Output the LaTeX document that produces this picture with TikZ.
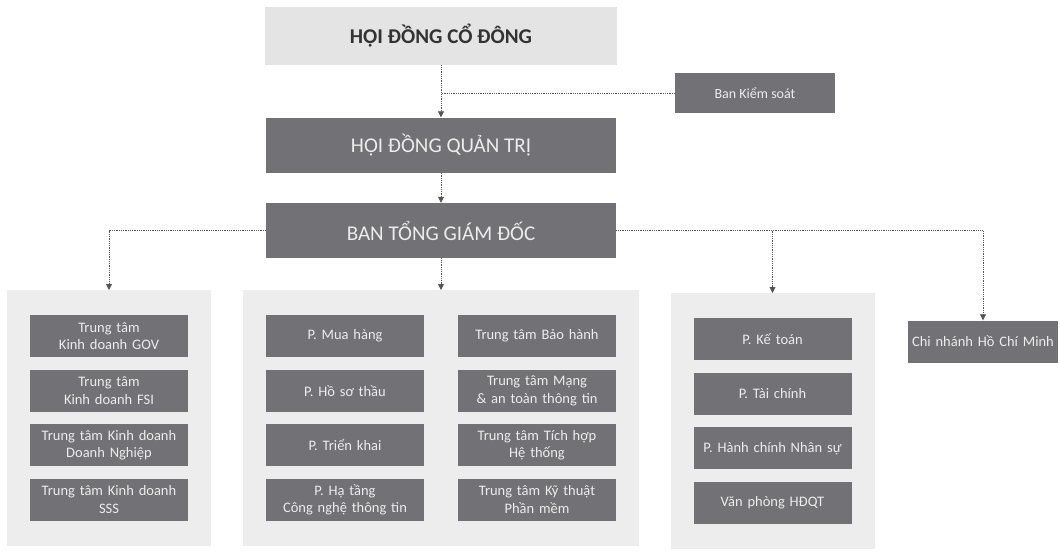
\documentclass[tikz,border=0pt]{standalone}
\usepackage{fontspec}
\setmainfont{Carlito}
\usetikzlibrary{matrix, arrows.meta}

\definecolor{boxgray}{RGB}{114,114,118}
\definecolor{boxtext}{RGB}{236,236,236}
\definecolor{bggray}{RGB}{237,237,237}
\definecolor{topgray}{RGB}{228,228,228}
\definecolor{linegray}{RGB}{85,85,85}

\begin{document}
\begin{tikzpicture}
        [x=1pt, y=-1pt,
        every node/.style={align=center, inner sep=0pt},
        darkbox/.style={fill=boxgray, text=boxtext},
        unitbox/.style={darkbox, text width=152pt, minimum width=158pt,
          minimum height=42pt, font=\fontsize{14.5}{17.5}\selectfont},
        bigbox/.style={darkbox, minimum width=350pt, minimum height=55pt,
          font=\fontsize{21}{25}\selectfont},
        topbox/.style={fill=topgray, text=black!80, minimum width=352pt,
          minimum height=58pt, font=\fontsize{21}{25}\selectfont\bfseries},
        group/.style={matrix of nodes, fill=bggray, inner xsep=23pt,
          inner ysep=25pt, row sep=12.5pt, column sep=34pt,
          nodes={unitbox, anchor=center}},
        link/.style={linegray, densely dotted, line width=0.8pt},
        arrow/.style={link, -{Triangle[width=6pt, length=6pt]}}]

    \useasboundingbox (0,0) rectangle (1060,554);

    % top of the chart
    \node (hdcd) [topbox] at (441,36) {HỘI ĐỒNG CỔ ĐÔNG};
    \node (hdqt) [bigbox] at (441,145) {HỘI ĐỒNG QUẢN TRỊ};
    \node (btgd) [bigbox] at (441,230.5) {BAN TỔNG GIÁM ĐỐC};
    \node (bks) [darkbox, minimum width=160pt, minimum height=40pt,
      font=\fontsize{14}{17}\selectfont] at (755,93) {Ban Kiểm soát};

    % units below the board of directors
    \matrix (g1) [group, anchor=north] at (109,290)
    {
      {Trung tâm\\Kinh doanh GOV} \\
      {Trung tâm\\Kinh doanh FSI} \\
      {Trung tâm Kinh doanh\\Doanh Nghiệp} \\
      {Trung tâm Kinh doanh\\SSS} \\
    };

    \matrix (g2) [group, anchor=north] at (441,290)
    {
      P. Mua hàng & Trung tâm Bảo hành \\
      P. Hồ sơ thầu & {Trung tâm Mạng\\\& an toàn thông tin} \\
      P. Triển khai & {Trung tâm Tích hợp\\Hệ thống} \\
      {P. Hạ tầng\\Công nghệ thông tin} & {Trung tâm Kỹ thuật\\Phần mềm} \\
    };

    \matrix (g3) [group, anchor=north] at (772.5,293)
    {
      P. Kế toán \\
      P. Tài chính \\
      P. Hành chính Nhân sự \\
      Văn phòng HĐQT \\
    };

    \node (cn) [unitbox, text width=146pt, minimum width=150pt] at (983,341.5)
      {Chi nhánh Hồ Chí Minh};

    % connectors
    \draw[arrow] (hdcd) -- (hdqt);
    \draw[link] (bks.west) -- (bks.west -| hdcd.south);
    \draw[arrow] (hdqt) -- (btgd);
    \draw[arrow] (btgd.west) -| (g1.north);
    \draw[arrow] (btgd.south) -- (g2.north);
    \draw[arrow] (btgd.east) -| (cn.north);
    \draw[arrow] (btgd.east -| g3.north) -- (g3.north);
\end{tikzpicture}
\end{document}
